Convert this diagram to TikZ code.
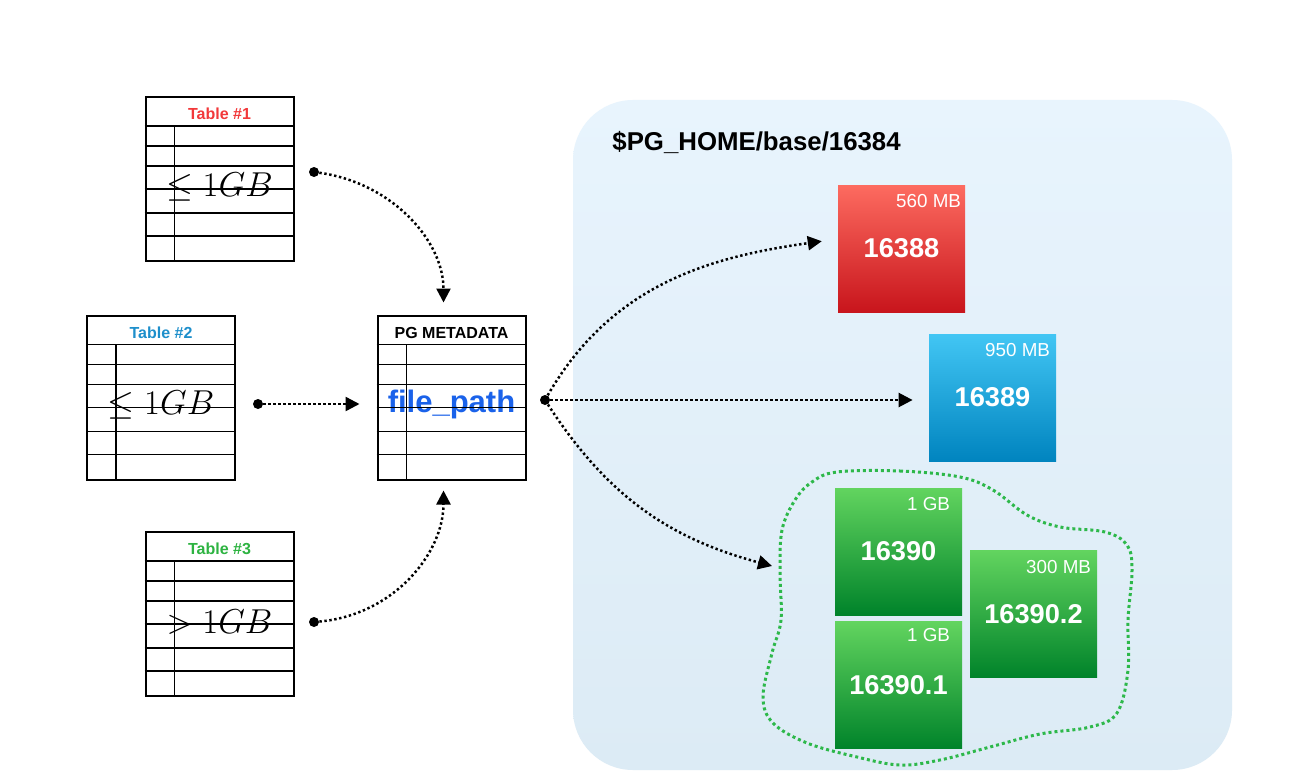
\documentclass[tikz,border=0pt]{standalone}
\usepackage{amsmath}
\usepackage{amssymb}
\usepackage{fontspec}
\setmainfont{Liberation Sans}
\usetikzlibrary{arrows.meta,positioning}

\definecolor{tabred}{HTML}{F2383A}
\definecolor{tabblue}{HTML}{1E8FCB}
\definecolor{tabgreen}{HTML}{2DB341}
\definecolor{pathblue}{HTML}{1A62EA}
\definecolor{panelhi}{HTML}{E8F4FD}
\definecolor{panello}{HTML}{DCEBF5}
\definecolor{redhi}{HTML}{FD6B60}
\definecolor{redlo}{HTML}{C8151C}
\definecolor{bluehi}{HTML}{42C6F4}
\definecolor{bluelo}{HTML}{0084BF}
\definecolor{greenhi}{HTML}{62D45F}
\definecolor{greenlo}{HTML}{00832A}
\definecolor{blobgreen}{HTML}{2DB84A}

\newcommand{\tablegrid}[1]{%
  \foreach \r in {15,25,35,46.5,58.5,70}
    \draw[gridline] ([yshift=-\r pt]#1.north west) -- ([yshift=-\r pt]#1.north east);
  \draw[gridline] ([xshift=15pt,yshift=-15pt]#1.north west) -- ([xshift=15pt]#1.south west);
}

\begin{document}
\begin{tikzpicture}[x=0.5pt,y=0.5pt,>={Triangle[length=7pt,width=7pt]},
    tab/.style={draw,line width=1pt,minimum width=74pt,minimum height=82pt,inner sep=0pt},
    gridline/.style={line width=0.6pt},
    tabhead/.style={font=\bfseries\fontsize{8}{9}\selectfont},
    tabval/.style={font=\fontsize{17.5}{20}\selectfont},
    startdot/.style={circle,fill,inner sep=0pt,minimum size=5pt},
    flow/.style={->,line width=1.25pt,dash pattern=on 1.2pt off 1.3pt},
    filebox/.style={minimum size=63.5pt,inner sep=0pt,text=white,font=\bfseries\fontsize{13.6}{16}\selectfont},
    sizetag/.style={anchor=east,inner sep=0pt,text=white,font=\fontsize{9.4}{11}\selectfont},
    blob/.style={blobgreen,line width=1.5pt,dash pattern=on 1.5pt off 1.5pt}]
  \useasboundingbox (0,0) rectangle (1294,773);
  \fill[white] (0,0) rectangle (1294,773);
  % data directory
  \path[top color=panelhi,bottom color=panello,rounded corners=30pt] (573,3) rectangle (1232,673);
  \node[anchor=west,inner sep=0pt,font=\bfseries\fontsize{12.9}{15}\selectfont] (title) at (612,631) {\$PG\_HOME/base/16384};

  % tables
  \node[tab] (t1) at (219.5,594) {};
  \node[tab] (t2) at (161,375.5) {};
  \node[tab] (t3) at (219.5,159) {};
  \node[tab] (meta) at (451.5,375.5) {};
  \node[tabhead,text=tabred] (t1h) at ([yshift=-9pt]t1.north) {Table \#1};
  \node[tabhead,text=tabblue] (t2h) at ([yshift=-9pt]t2.north) {Table \#2};
  \node[tabhead,text=tabgreen] (t3h) at ([yshift=-9pt]t3.north) {Table \#3};
  \node[tabhead] (metah) at ([yshift=-9pt]meta.north) {PG METADATA};
  \node[tabval] (t1v) at ([yshift=-45.5pt]t1.north) {$\leq 1GB$};
  \node[tabval] (t2v) at ([yshift=-45.5pt]t2.north) {$\leq 1GB$};
  \node[tabval] (t3v) at ([yshift=-45.5pt]t3.north) {$> 1GB$};
  \node[font=\bfseries\fontsize{15.5}{18}\selectfont,text=pathblue] (metav) at ([yshift=-45pt]meta.north) {file\_path};
  \tablegrid{t1}
  \tablegrid{t2}
  \tablegrid{t3}
  \tablegrid{meta}

  \node[startdot] (d1) at (314,601) {};
  \node[startdot] (d2) at (258,369) {};
  \node[startdot] (d3) at (314,151) {};
  \node[startdot] (md) at (545,373) {};

  % files
  \node[filebox,top color=redhi,bottom color=redlo] (f16388) at (901.5,524.5) {16388};
  \node[filebox,top color=bluehi,bottom color=bluelo] (f16389) at (992.5,375.5) {16389};
  \node[filebox,top color=greenhi,bottom color=greenlo] (f16390) at (898.5,221.5) {16390};
  \node[filebox,top color=greenhi,bottom color=greenlo,below=3pt of f16390] (f16390a) {16390.1};
  \node[filebox,top color=greenhi,bottom color=greenlo] (f16390b) at (1033.5,159) {16390.2};
  \node[sizetag] (s16388) at ([xshift=-2pt,yshift=-8pt]f16388.north east) {560 MB};
  \node[sizetag] (s16389) at ([xshift=-3pt,yshift=-8pt]f16389.north east) {950 MB};
  \node[sizetag] (s16390) at ([xshift=-6pt,yshift=-8pt]f16390.north east) {1 GB};
  \node[sizetag] (s16390a) at ([xshift=-6pt,yshift=-7pt]f16390a.north east) {1 GB};
  \node[sizetag] (s16390b) at ([xshift=-3pt,yshift=-8.5pt]f16390b.north east) {300 MB};

  \draw[blob] plot[smooth cycle,tension=0.6] coordinates {(837,301) (900,302) (960,296)
    (993,283) (1027,258) (1060,246) (1105,241) (1127,228) (1132,203) (1128,153)
    (1128,103) (1117,60) (1090,46) (1040,39) (990,26) (940,13) (900,8) (857,16)
    (807,30) (773,50) (763,76) (772,120) (781,153) (780,200) (782,243) (795,273) (812,291)};
  \coordinate (gin) at (772,207);

  \path (d1) edge[flow,out=-8,in=90,shorten >=6pt] ([xshift=-4pt]meta.north)
  (d2) edge[flow,shorten >=8.5pt] (d2 -| meta.west)
  (d3) edge[flow,out=5,in=-90,shorten >=5pt] ([xshift=-4pt]meta.south)
  (md) edge[flow,out=60,in=188,shorten >=8pt] ([yshift=4.75pt]f16388.west)
  edge[flow,shorten >=8pt] (md -| f16389.west)
  edge[flow,out=-57,in=165] (gin);
\end{tikzpicture}
\end{document}
